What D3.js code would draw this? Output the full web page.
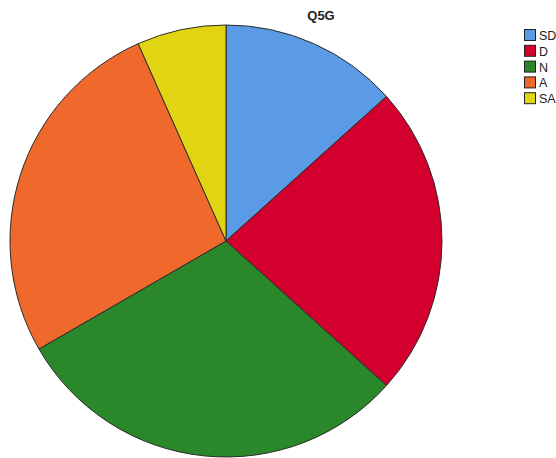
<!DOCTYPE html>
<html>
<head>
<meta charset="utf-8">
<script src="https://cdn.jsdelivr.net/npm/d3@7"></script>
<style>
  body { margin: 0; background: #fff; }
  svg { display: block; }
</style>
</head>
<body>
<script>
// Q5G responses
const categories = ["SD", "D", "N", "A", "SA"];
const counts = [4, 7, 9, 8, 2];
const colors = ["#5b9ae4", "#d3002e", "#2a872a", "#ef682c", "#e1d513"];

const width = 556;
const height = 458;
const cx = 226, cy = 241, radius = 216;

const svg = d3.select("body").append("svg")
    .attr("width", width)
    .attr("height", height);

// title
svg.append("text")
    .attr("x", 321)
    .attr("y", 20)
    .attr("text-anchor", "middle")
    .attr("font-family", "Arial, 'Liberation Sans', sans-serif")
    .attr("font-size", 13)
    .attr("font-weight", "bold")
    .attr("fill", "#222")
    .text("Q5G");

const data = categories.map((c, i) => ({cat: c, value: counts[i], color: colors[i]}));

const pie = d3.pie()
    .value(d => d.value)
    .sort(null);

const arc = d3.arc()
    .innerRadius(0)
    .outerRadius(radius);

svg.append("g")
    .attr("transform", `translate(${cx},${cy})`)
    .selectAll("path")
    .data(pie(data))
    .enter()
    .append("path")
    .attr("d", arc)
    .attr("fill", d => d.data.color)
    .attr("stroke", "#2b2b2b")
    .attr("stroke-width", 1);

// legend
const legend = svg.append("g")
    .attr("transform", "translate(524.5,29.5)");

const item = legend.selectAll("g")
    .data(data)
    .enter()
    .append("g")
    .attr("transform", (d, i) => `translate(0,${i * 15.8})`);

item.append("rect")
    .attr("width", 11)
    .attr("height", 11)
    .attr("fill", d => d.color)
    .attr("stroke", "#222")
    .attr("stroke-width", 1);

item.append("text")
    .attr("x", 14.5)
    .attr("y", 10.5)
    .attr("font-family", "Arial, 'Liberation Sans', sans-serif")
    .attr("font-size", 12.5)
    .attr("fill", "#222")
    .text(d => d.cat);
</script>
</body>
</html>
